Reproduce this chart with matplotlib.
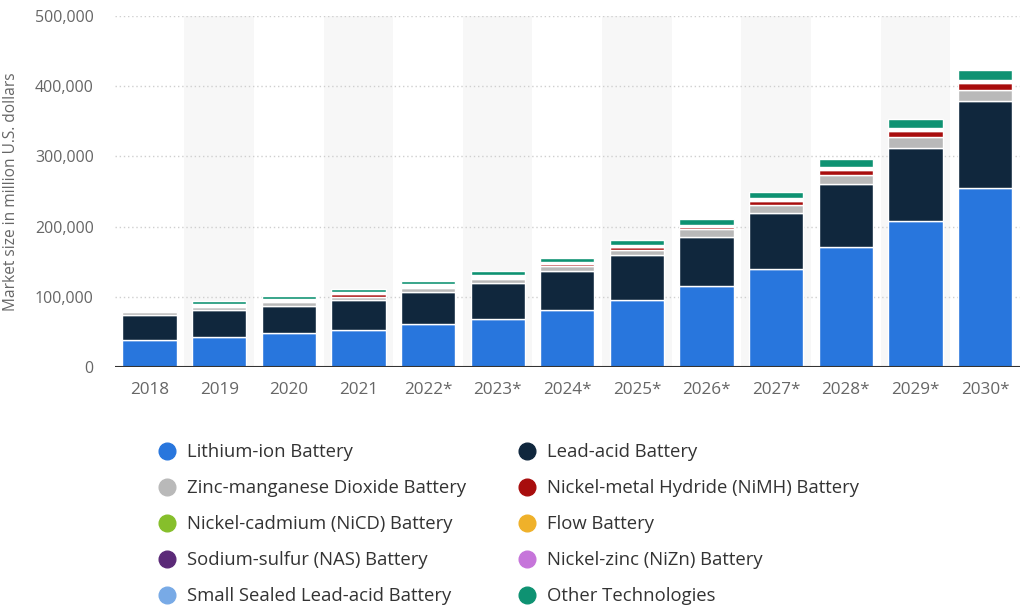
import matplotlib
matplotlib.use("Agg")
import matplotlib.pyplot as plt
from matplotlib.lines import Line2D
from matplotlib.ticker import FuncFormatter
import numpy as np

plt.rcParams['font.family'] = ['Open Sans', 'DejaVu Sans']

years = ['2018', '2019', '2020', '2021', '2022*', '2023*', '2024*', '2025*',
         '2026*', '2027*', '2028*', '2029*', '2030*']

lithium_ion = [39200, 42700, 48400, 53400, 61500, 68100, 80900, 95200, 115100, 140300, 170700, 207700, 254700]
lead_acid = [35600, 39200, 39200, 42800, 45600, 52300, 56100, 65100, 70400, 79400, 90700, 105000, 123900]
zinc_manganese = [4000, 3900, 4700, 4200, 5700, 5700, 6600, 6100, 11400, 10800, 12400, 14700, 16700]
nimh = [500, 1000, 1200, 4300, 1000, 1000, 3400, 4300, 3200, 5700, 7500, 9100, 9000]
nicd = [400, 900, 1000, 600, 1100, 1000, 900, 700, 700, 1100, 1000, 1000, 1100]
flow = [100, 500, 600, 400, 700, 600, 600, 500, 600, 1000, 900, 900, 1000]
nas = [200, 500, 500, 300, 600, 600, 500, 400, 400, 700, 700, 600, 700]
nizn = [100, 300, 400, 200, 500, 400, 300, 300, 300, 600, 500, 500, 600]
small_sealed = [400, 1000, 1100, 900, 1200, 1100, 1000, 900, 900, 1400, 1200, 1200, 1400]
other = [300, 3700, 4800, 4300, 4300, 5700, 5700, 8100, 8100, 8600, 11000, 12900, 13700]

series_names = ['Lithium-ion Battery', 'Lead-acid Battery', 'Zinc-manganese Dioxide Battery',
                'Nickel-metal Hydride (NiMH) Battery', 'Nickel-cadmium (NiCD) Battery',
                'Flow Battery', 'Sodium-sulfur (NAS) Battery', 'Nickel-zinc (NiZn) Battery',
                'Small Sealed Lead-acid Battery', 'Other Technologies']
series_values = [lithium_ion, lead_acid, zinc_manganese, nimh, nicd, flow, nas, nizn,
                 small_sealed, other]
series_colors = ['#2876dd', '#10273d', '#b9b9b9', '#a80d0d', '#86bf2b', '#efb12a',
                 '#5b2a78', '#c675da', '#78aae6', '#0e9272']

fig = plt.figure(figsize=(10.24, 6.14), dpi=100)
ax = fig.add_axes([0.112, 0.402, 0.884, 0.572])

x = np.arange(len(years))
for i in x:
    if i % 2 == 1:
        ax.axvspan(i - 0.5, i + 0.5, color='#f7f7f7', zorder=0, lw=0)

bottom = np.zeros(len(years))
for name, vals, col in zip(series_names, series_values, series_colors):
    v = np.array(vals, dtype=float)
    ax.bar(x, v, width=0.78, bottom=bottom, color=col, edgecolor='white',
           linewidth=1.0, zorder=3, label=name)
    bottom += v

ax.set_xlim(-0.5, 12.5)
ax.set_ylim(0, 500000)
ax.set_yticks([0, 100000, 200000, 300000, 400000, 500000])
ax.yaxis.set_major_formatter(FuncFormatter(lambda v, p: f"{int(v):,}"))
ax.set_xticks(x)
ax.set_xticklabels(years)
ax.tick_params(axis='both', length=0, labelcolor='#666666')
ax.tick_params(axis='y', pad=15, labelsize=11.5)
ax.tick_params(axis='x', pad=11, labelsize=12.3)

for yv in [100000, 200000, 300000, 400000, 500000]:
    ax.axhline(yv, color='#cfcfcf', lw=1, ls=(0, (1, 2)), zorder=1)
ax.axhline(0, color='#333333', lw=1.5, zorder=4)

for s in ax.spines.values():
    s.set_visible(False)

fig.text(0.011, 0.688, 'Market size in million U.S. dollars', rotation=90,
         ha='center', va='center', fontsize=11.2, color='#666666')

def handle(c):
    return Line2D([], [], marker='o', ls='none', markersize=12,
                  markerfacecolor=c, markeredgecolor=c)

left_idx = [0, 2, 4, 6, 8]
right_idx = [1, 3, 5, 7, 9]
for idxs, xpos in [(left_idx, 0.1433), (right_idx, 0.4948)]:
    leg = fig.legend([handle(series_colors[i]) for i in idxs],
                     [series_names[i] for i in idxs],
                     loc='upper left', bbox_to_anchor=(xpos, 0.293),
                     frameon=False, fontsize=13.3, labelspacing=0.97,
                     handletextpad=0.5, handlelength=1.2, borderpad=0)
    for t in leg.get_texts():
        t.set_color('#333333')

fig.savefig('out.png', dpi=100)
